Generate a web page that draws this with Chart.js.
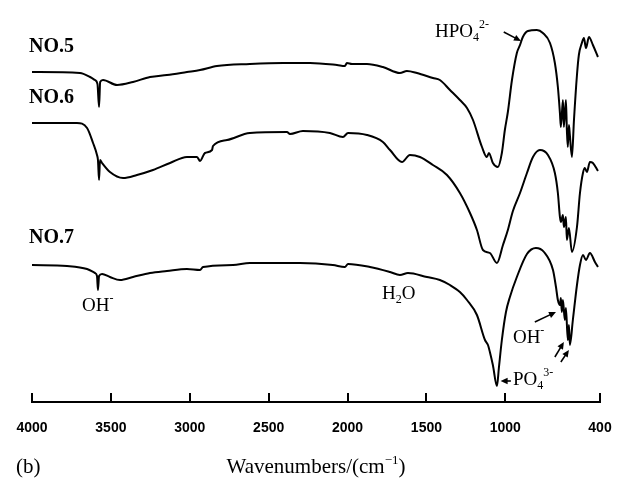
<!DOCTYPE html>
<html>
<head>
<meta charset="utf-8">
<script src="https://cdn.jsdelivr.net/npm/chart.js@4/dist/chart.umd.min.js"></script>
<style>
  html, body { margin: 0; padding: 0; background: #fff; }
  canvas { display: block; }
</style>
</head>
<body>
<canvas id="ir" width="619" height="483" style="width:619px;height:483px"></canvas>
<script>
// Wavenumber ticks (cm^-1)
const tickValues = [4000, 3500, 3000, 2500, 2000, 1500, 1000, 400];

// IR transmittance traces, offset for stacking (arbitrary units): [wavenumber, T]
const no5 = [
  [4000, 330], [3696, 329], [3632, 325], [3601, 322], [3585, 318], [3575, 295], [3568, 320],
  [3550, 322], [3461, 317], [3360, 320], [3252, 325], [3145, 327], [3018, 330], [2935, 332],
  [2828, 336], [2619, 338], [2409, 339], [2238, 339], [2067, 337], [2017, 336], [2004, 339],
  [1972, 338], [1877, 338], [1776, 335], [1668, 329], [1624, 331], [1560, 329], [1459, 324],
  [1415, 322], [1351, 312], [1288, 302], [1243, 294], [1205, 282], [1148, 255], [1117, 245],
  [1104, 249], [1079, 239], [1047, 235], [1022, 249], [1003, 272], [984, 290], [958, 322],
  [927, 349], [907, 357], [889, 365], [857, 371], [800, 372], [762, 369], [717, 359],
  [686, 339], [667, 315], [654, 289], [648, 275], [635, 302], [629, 275], [616, 302],
  [610, 272], [604, 255], [597, 277], [591, 267], [578, 245], [565, 282], [546, 327],
  [534, 347], [515, 359], [502, 364], [489, 354], [470, 365], [445, 357], [413, 345]
];

const no6 = [
  [4000, 279], [3715, 279], [3651, 274], [3613, 259], [3588, 247], [3582, 242], [3575, 222],
  [3569, 242], [3556, 239], [3506, 230], [3423, 224], [3335, 227], [3233, 232], [3125, 239],
  [3018, 245], [2954, 245], [2935, 241], [2904, 249], [2859, 252], [2853, 256], [2764, 262],
  [2619, 269], [2384, 270], [2365, 268], [2283, 271], [2112, 269], [2029, 265], [1997, 269],
  [1877, 267], [1776, 260], [1731, 252], [1655, 240], [1605, 247], [1541, 245], [1459, 237],
  [1370, 227], [1288, 209], [1224, 189], [1180, 172], [1142, 152], [1098, 149], [1053, 139],
  [1015, 157], [984, 172], [952, 191], [907, 209], [863, 229], [825, 245], [781, 252],
  [730, 247], [686, 229], [667, 209], [654, 185], [648, 180], [635, 187], [629, 175],
  [616, 185], [610, 162], [597, 174], [578, 150], [546, 175], [527, 209], [508, 229],
  [496, 234], [483, 230], [464, 240], [445, 239], [413, 231]
];

const no7 = [
  [4000, 137], [3778, 136], [3651, 133], [3601, 129], [3588, 126], [3582, 112], [3575, 126],
  [3556, 128], [3506, 125], [3442, 122], [3360, 125], [3252, 129], [3145, 131], [3018, 133],
  [2935, 132], [2916, 135], [2726, 137], [2619, 139], [2302, 139], [2093, 137], [2017, 135],
  [1997, 138], [1858, 135], [1731, 130], [1668, 127], [1617, 129], [1497, 125], [1415, 122],
  [1351, 117], [1288, 110], [1243, 102], [1180, 87], [1129, 62], [1110, 57], [1098, 50],
  [1079, 37], [1053, 16], [1041, 34], [1022, 62], [996, 90], [971, 105], [927, 125],
  [863, 148], [806, 154], [755, 150], [698, 132], [679, 115], [667, 102], [654, 97],
  [648, 104], [642, 90], [635, 102], [623, 82], [616, 94], [604, 62], [597, 77], [591, 57],
  [572, 82], [546, 117], [527, 137], [508, 147], [489, 142], [464, 149], [432, 140], [413, 135]
];

const toPoints = arr => arr.map(([x, y]) => ({ x, y }));

// Rich text: parts are [text, kind] with kind '' | 'sub' | 'sup'
function drawRich(ctx, x, y, parts, size, weight) {
  let cx = x;
  for (const [t, kind] of parts) {
    const s = kind ? Math.round(size * 0.62) : size;
    const dy = kind === 'sub' ? size * 0.22 : kind === 'sup' ? -size * 0.45 : 0;
    ctx.font = `${weight} ${s}px "Liberation Serif", "DejaVu Serif", serif`;
    ctx.fillText(t, cx, y + dy);
    cx += ctx.measureText(t).width;
  }
  return cx - x;
}

function measureRich(ctx, parts, size, weight) {
  let w = 0;
  for (const [t, kind] of parts) {
    const s = kind ? Math.round(size * 0.62) : size;
    ctx.font = `${weight} ${s}px "Liberation Serif", "DejaVu Serif", serif`;
    w += ctx.measureText(t).width;
  }
  return w;
}

function drawArrow(ctx, x1, y1, x2, y2) {
  const a = Math.atan2(y2 - y1, x2 - x1);
  const L = 7, W = 3.2;
  ctx.beginPath();
  ctx.moveTo(x1, y1);
  ctx.lineTo(x2 - Math.cos(a) * L * 0.8, y2 - Math.sin(a) * L * 0.8);
  ctx.lineWidth = 1.6;
  ctx.stroke();
  ctx.beginPath();
  ctx.moveTo(x2, y2);
  ctx.lineTo(x2 - Math.cos(a) * L - Math.sin(a) * W, y2 - Math.sin(a) * L + Math.cos(a) * W);
  ctx.lineTo(x2 - Math.cos(a) * L + Math.sin(a) * W, y2 - Math.sin(a) * L - Math.cos(a) * W);
  ctx.closePath();
  ctx.fill();
}

// Labels placed in data coordinates [wavenumber, T]
const labels = [
  { at: [4019, 350], parts: [['NO.5', '']], size: 20, weight: 'bold' },
  { at: [4019, 299], parts: [['NO.6', '']], size: 20, weight: 'bold' },
  { at: [4019, 159], parts: [['NO.7', '']], size: 20, weight: 'bold' },
  { at: [3683, 91], parts: [['OH', ''], ['-', 'sup']], size: 19, weight: 'normal' },
  { at: [1782, 103], parts: [['H', ''], ['2', 'sub'], ['O', '']], size: 19, weight: 'normal' },
  { at: [1446, 365], parts: [['HPO', ''], ['4', 'sub'], ['2-', 'sup']], size: 19, weight: 'normal' },
  { at: [952, 59], parts: [['OH', ''], ['-', 'sup']], size: 19, weight: 'normal' },
  { at: [952, 17], parts: [['PO', ''], ['4', 'sub'], ['3-', 'sup']], size: 19, weight: 'normal' }
];
const arrows = [
  { from: [1010, 370], to: [901, 361] },
  { from: [813, 80], to: [679, 90] },
  { from: [965, 21], to: [1030, 21] },
  { from: [686, 45], to: [629, 60] },
  { from: [648, 40], to: [597, 52] }
];

const annotate = {
  id: 'annotate',
  afterDraw(chart) {
    const { ctx, chartArea, scales: { x, y } } = chart;
    ctx.save();
    ctx.fillStyle = '#000';
    ctx.strokeStyle = '#000';
    // inward tick marks on the wavenumber axis
    ctx.lineWidth = 2;
    ctx.beginPath();
    for (const v of tickValues) {
      const px = Math.round(x.getPixelForValue(v));
      ctx.moveTo(px, chartArea.bottom);
      ctx.lineTo(px, chartArea.bottom - 9);
    }
    ctx.stroke();
    ctx.textBaseline = 'alphabetic';
    ctx.textAlign = 'left';
    for (const l of labels) {
      drawRich(ctx, x.getPixelForValue(l.at[0]), y.getPixelForValue(l.at[1]), l.parts, l.size, l.weight);
    }
    for (const a of arrows) {
      drawArrow(ctx, x.getPixelForValue(a.from[0]), y.getPixelForValue(a.from[1]),
        x.getPixelForValue(a.to[0]), y.getPixelForValue(a.to[1]));
    }
    // panel tag and axis title
    const base = chart.height - 10;
    drawRich(ctx, 16, base, [['(b)', '']], 21, 'normal');
    const title = [['Wavenumbers/(cm', ''], ['\u22121', 'sup'], [')', '']];
    const w = measureRich(ctx, title, 21, 'normal');
    const cx = (chartArea.left + chartArea.right) / 2;
    drawRich(ctx, cx - w / 2, base, title, 21, 'normal');
    ctx.restore();
  }
};

const traceStyle = {
  borderColor: '#000',
  borderWidth: 2,
  pointRadius: 0,
  fill: false,
  cubicInterpolationMode: 'monotone'
};

new Chart(document.getElementById('ir'), {
  type: 'line',
  data: {
    datasets: [
      { label: 'NO.5', data: toPoints(no5), ...traceStyle },
      { label: 'NO.6', data: toPoints(no6), ...traceStyle },
      { label: 'NO.7', data: toPoints(no7), ...traceStyle }
    ]
  },
  options: {
    responsive: false,
    animation: false,
    devicePixelRatio: 1,
    layout: { padding: { left: 32, right: 19, top: 20, bottom: 0 } },
    plugins: { legend: { display: false }, tooltip: { enabled: false } },
    scales: {
      x: {
        type: 'linear',
        reverse: true,
        min: 400,
        max: 4000,
        afterBuildTicks: s => { s.ticks = tickValues.map(v => ({ value: v })); },
        afterFit: s => { s.height = 81; s.paddingLeft = 0; s.paddingRight = 0; },
        grid: { drawOnChartArea: false, drawTicks: false },
        border: { display: true, color: '#000', width: 2 },
        ticks: {
          color: '#000',
          padding: 18,
          autoSkip: false,
          maxRotation: 0,
          font: { family: '"Liberation Sans", Arial, sans-serif', size: 14, weight: 'bold' },
          callback: v => String(v)
        }
      },
      y: { display: false, min: 0, max: 382 }
    }
  },
  plugins: [annotate]
});
</script>
</body>
</html>
